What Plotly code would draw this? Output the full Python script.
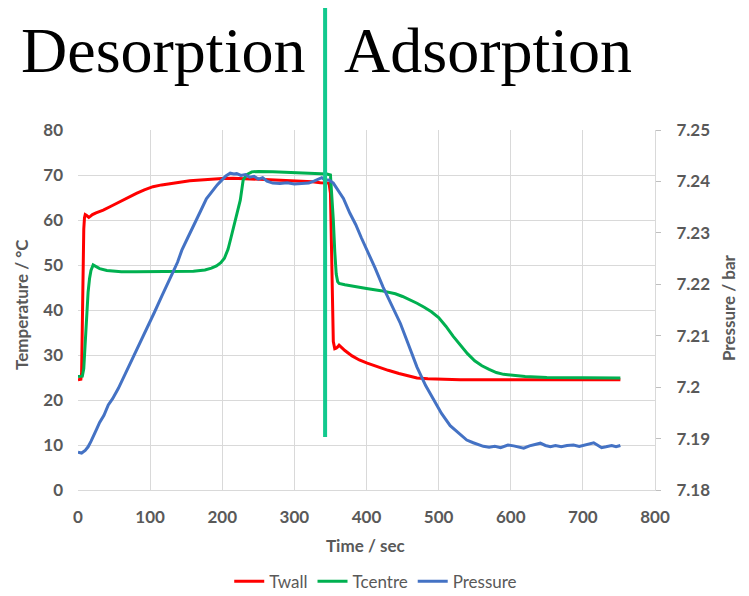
import plotly.graph_objects as go

# ---------------- data ----------------
twall_t = [0, 2, 4, 5, 6, 7, 8, 9, 10, 12, 15, 17, 20, 25, 35, 45, 58, 70, 81, 92, 104, 116, 128, 140, 155, 170, 185, 200, 215, 230, 250, 270, 290, 310, 325, 336, 344, 348, 350, 351, 352, 353, 354, 356, 358, 360, 362, 366, 370, 380, 390, 401, 415, 430, 445, 460, 470, 485, 500, 530, 560, 600, 650, 700, 752]
twall_v = [24.5, 24.5, 24.6, 26.0, 40.0, 52.0, 58.0, 60.5, 61.2, 61.0, 60.6, 60.8, 61.2, 61.6, 62.2, 63.0, 64.1, 65.0, 65.9, 66.7, 67.4, 67.8, 68.1, 68.4, 68.7, 68.9, 69.1, 69.2, 69.3, 69.2, 69.0, 68.9, 68.7, 68.6, 68.5, 68.3, 68.3, 68.2, 66.0, 55.0, 44.0, 37.0, 33.0, 31.4, 31.5, 31.8, 32.2, 31.6, 31.0, 29.8, 28.9, 28.2, 27.4, 26.6, 25.9, 25.3, 24.9, 24.7, 24.6, 24.5, 24.5, 24.5, 24.5, 24.5, 24.5]

tcentre_t = [0, 6, 8, 10, 12, 14, 16, 18, 21, 25, 30, 40, 50, 60, 80, 100, 120, 140, 160, 176, 185, 192, 198, 203, 208, 212, 216, 220, 225, 229, 234, 241, 250, 270, 290, 310, 330, 345, 350, 352, 354, 356, 358, 360, 362, 370, 380, 400, 420, 430, 440, 450, 460, 470, 480, 490, 500, 510, 520, 530, 540, 550, 560, 570, 580, 590, 600, 620, 650, 700, 752]
tcentre_v = [25.2, 25.3, 27.0, 33.0, 39.0, 44.0, 47.0, 48.8, 50.0, 49.6, 49.2, 48.8, 48.6, 48.5, 48.5, 48.5, 48.5, 48.5, 48.6, 48.9, 49.3, 49.8, 50.5, 51.5, 53.5, 56.0, 58.5, 61.5, 64.4, 68.9, 70.1, 70.7, 70.8, 70.7, 70.6, 70.5, 70.4, 70.2, 70.0, 66.0, 60.0, 53.0, 48.0, 46.3, 45.9, 45.6, 45.3, 44.8, 44.3, 44.0, 43.6, 43.0, 42.3, 41.5, 40.6, 39.6, 38.3, 36.4, 34.2, 32.2, 30.3, 28.7, 27.6, 26.8, 26.1, 25.7, 25.5, 25.2, 25.0, 24.9, 24.9]

pressure_t = [0, 5, 10, 14, 18, 22, 26, 30, 36, 42, 48, 56, 62, 70, 79, 88, 97, 106, 116, 124, 132, 138, 144, 152, 160, 170, 178, 186, 193, 199, 205, 211, 216, 220, 226, 232, 238, 244, 250, 256, 262, 270, 280, 290, 300, 310, 320, 328, 334, 338, 342, 348, 354, 360, 368, 377, 385, 393, 401, 412, 423, 435, 447, 458, 470, 482, 493, 504, 516, 525, 532, 539, 548, 556, 562, 570, 578, 586, 596, 604, 612, 618, 626, 634, 641, 648, 655, 662, 670, 678, 687, 695, 702, 709, 715, 720, 726, 732, 740, 746, 752]
pressure_v = [7.18735, 7.18718, 7.18770, 7.18840, 7.18945, 7.19085, 7.19190, 7.19313, 7.19453, 7.19654, 7.19776, 7.19978, 7.20153, 7.20398, 7.20660, 7.20923, 7.21203, 7.21456, 7.21763, 7.21990, 7.22244, 7.22428, 7.22664, 7.22900, 7.23145, 7.23425, 7.23661, 7.23819, 7.23933, 7.24020, 7.24108, 7.24160, 7.24143, 7.24151, 7.24116, 7.24134, 7.24081, 7.24099, 7.24046, 7.24073, 7.24003, 7.23968, 7.23959, 7.23976, 7.23950, 7.23959, 7.23968, 7.24011, 7.24046, 7.24073, 7.24029, 7.24029, 7.23968, 7.23845, 7.23670, 7.23381, 7.23163, 7.22900, 7.22664, 7.22314, 7.21946, 7.21605, 7.21238, 7.20835, 7.20389, 7.20030, 7.19750, 7.19488, 7.19251, 7.19138, 7.19041, 7.18971, 7.18919, 7.18875, 7.18849, 7.18831, 7.18849, 7.18823, 7.18875, 7.18858, 7.18840, 7.18814, 7.18858, 7.18893, 7.18910, 7.18866, 7.18840, 7.18866, 7.18840, 7.18866, 7.18875, 7.18849, 7.18875, 7.18901, 7.18919, 7.18875, 7.18823, 7.18840, 7.18866, 7.18840, 7.18866]

x_ticks = [0, 100, 200, 300, 400, 500, 600, 700, 800]
temp_ticks = [0, 10, 20, 30, 40, 50, 60, 70, 80]
press_ticks = [7.18, 7.19, 7.20, 7.21, 7.22, 7.23, 7.24, 7.25]
press_labels = ["7.18", "7.19", "7.2", "7.21", "7.22", "7.23", "7.24", "7.25"]
switch_time = 342.6

GRAY = "#595959"
GRID = "#D9D9D9"
FONT = "Lato"

fig = go.Figure()
fig.add_trace(go.Scatter(x=twall_t, y=twall_v, name="Twall", mode="lines",
                         line=dict(color="#FF0000", width=3)))
fig.add_trace(go.Scatter(x=tcentre_t, y=tcentre_v, name="Tcentre", mode="lines",
                         line=dict(color="#00B050", width=3)))
fig.add_trace(go.Scatter(x=pressure_t, y=pressure_v, name="Pressure", mode="lines",
                         line=dict(color="#4472C4", width=3), yaxis="y2"))

fig.update_layout(
    width=741, height=588,
    margin=dict(l=70, r=94, t=122, b=106, autoexpand=False),
    paper_bgcolor="white", plot_bgcolor="white",
    font=dict(family=FONT, color=GRAY, size=17),
    showlegend=True,
    legend=dict(orientation="h", x=0.516, xanchor="center", y=-0.255, yanchor="middle",
                font=dict(family=FONT, size=17, color=GRAY), itemwidth=30,
                tracegroupgap=0),
    xaxis=dict(range=[0, 800], tickvals=x_ticks, showgrid=True, gridcolor=GRID, gridwidth=1,
               zeroline=False, showline=True, linecolor=GRID, ticks="",
               ticklabelstandoff=12,
               tickfont=dict(family=FONT, size=17, color=GRAY, weight="bold")),
    yaxis=dict(range=[0, 80], tickvals=temp_ticks, showgrid=True, gridcolor=GRID, gridwidth=1,
               zeroline=False, showline=False, ticks="", ticklabelstandoff=14,
               tickfont=dict(family=FONT, size=17, color=GRAY, weight="bold")),
    yaxis2=dict(range=[7.18, 7.25], overlaying="y", side="right", tickvals=press_ticks,
                ticktext=press_labels, showgrid=False, zeroline=False, showline=True,
                linecolor=GRID, ticks="outside", ticklen=5, tickcolor="#BFBFBF",
                ticklabelstandoff=12,
                tickfont=dict(family=FONT, size=17, color=GRAY, weight="bold")),
)

fig.add_shape(type="line", xref="x", yref="paper", x0=switch_time, x1=switch_time,
              y0=0.147, y1=1.347, line=dict(color="#12C98E", width=4))

annots = [
    dict(text="Desorption", x=0.147, y=1.22, xref="paper", yref="paper",
         font=dict(family="Liberation Serif", size=64, color="black")),
    dict(text="Adsorption", x=0.711, y=1.22, xref="paper", yref="paper",
         font=dict(family="Liberation Serif", size=64, color="black")),
    dict(text="Temperature / °C", x=-0.097, y=0.514, xref="paper", yref="paper", textangle=-90,
         font=dict(family=FONT, size=17, color=GRAY, weight="bold")),
    dict(text="Pressure / bar", x=1.1265, y=0.508, xref="paper", yref="paper", textangle=-90,
         font=dict(family=FONT, size=17, color=GRAY, weight="bold")),
    dict(text="Time / sec", x=0.499, y=-0.153, xref="paper", yref="paper",
         font=dict(family=FONT, size=17, color=GRAY, weight="bold")),
]
for a in annots:
    fig.add_annotation(showarrow=False, xanchor="center", yanchor="middle", **a)

fig.write_html("out.html")
